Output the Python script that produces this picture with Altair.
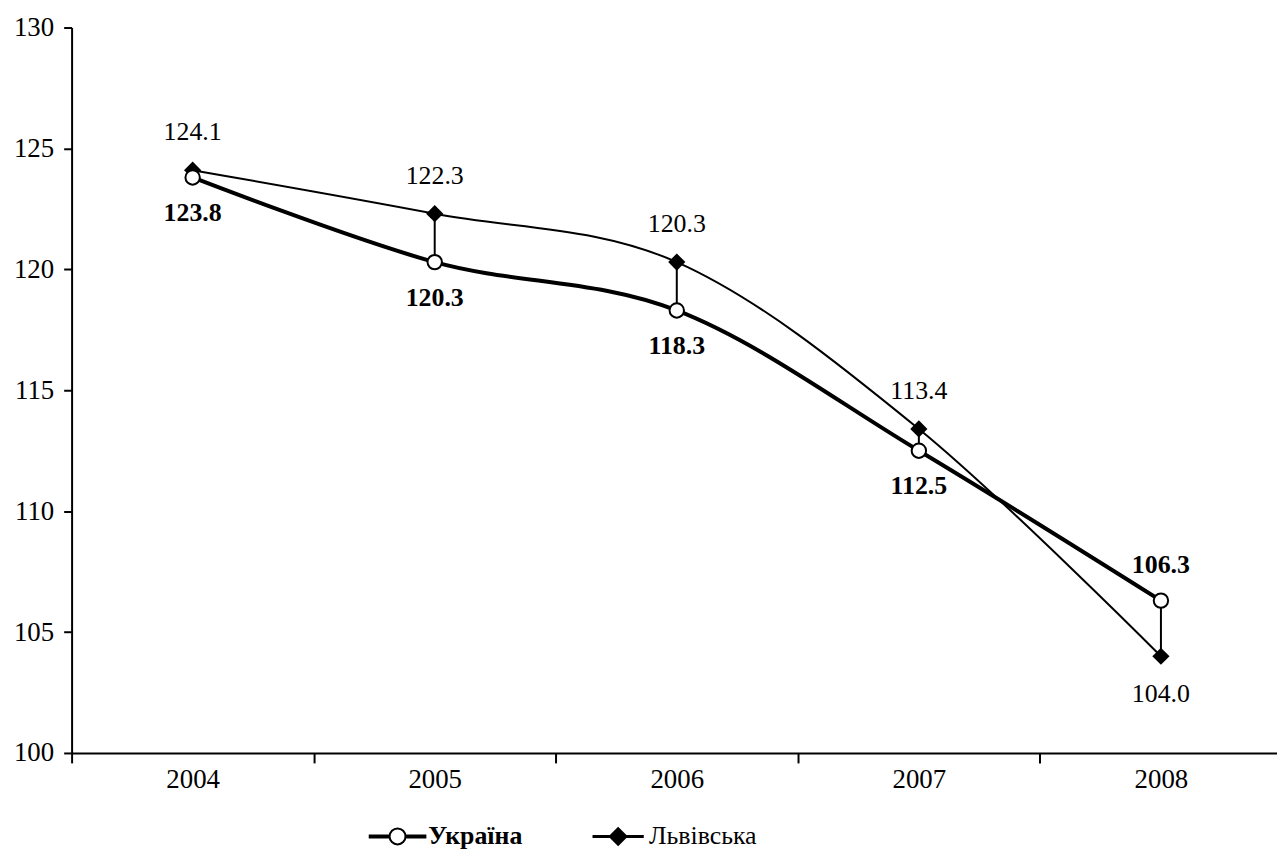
import altair as alt
import pandas as pd

years = ["2004", "2005", "2006", "2007", "2008"]
ukraine = [123.8, 120.3, 118.3, 112.5, 106.3]
lviv = [124.1, 122.3, 120.3, 113.4, 104.0]
series = ["Україна", "Львівська"]
y_ticks = [100, 105, 110, 115, 120, 125, 130]

df = pd.DataFrame({"year": years, "ukraine": ukraine, "lviv": lviv})
df_long = pd.DataFrame({
    "year": years * 2,
    "value": ukraine + lviv,
    "series": [series[0]] * len(years) + [series[1]] * len(years),
})

FONT = "Liberation Serif"
FS = 26
AFS = 27

x_enc = alt.X("year:N", title=None,
              scale=alt.Scale(paddingInner=0, paddingOuter=0, range=[0, 1218]),
              axis=alt.Axis(labelAngle=0, labelAlign="center", tickBand="extent",
                            tickSize=10, tickWidth=2,
                            domainWidth=2, domainColor="black", tickColor="black",
                            labelFont=FONT, labelFontSize=AFS, labelColor="black",
                            labelPadding=17, grid=False))
y_scale = alt.Scale(domain=[100, 130], nice=False, zero=False)


def yq(field, axis=False):
    if axis:
        return alt.Y(f"{field}:Q", title=None, scale=y_scale,
                     axis=alt.Axis(values=y_ticks, tickSize=8, tickWidth=2, domainWidth=2,
                                   domainColor="black", tickColor="black",
                                   labelFont=FONT, labelFontSize=AFS, labelColor="black",
                                   labelPadding=10, grid=False))
    return alt.Y(f"{field}:Q", scale=y_scale)


base = alt.Chart(df)

line_u = base.mark_line(interpolate="cardinal", color="black", strokeWidth=4).encode(
    x=x_enc, y=yq("ukraine", axis=True))
line_l = base.mark_line(interpolate="cardinal", color="black", strokeWidth=2).encode(
    x="year:N", y=yq("lviv"))
rules = base.mark_rule(color="black", strokeWidth=2).encode(
    x="year:N", y=yq("ukraine"), y2="lviv:Q")
pts_l = base.mark_point(shape="diamond", filled=True, color="black", size=300, opacity=1).encode(
    x="year:N", y=yq("lviv"))
pts_u = base.mark_point(shape="circle", filled=True, fill="white", stroke="black",
                        strokeWidth=2, size=210, opacity=1).encode(
    x="year:N", y=yq("ukraine"))

txt_u_below = base.transform_filter("datum.year != '2008'").mark_text(
    font=FONT, fontSize=FS, fontWeight="bold", color="black", dy=36, baseline="middle").encode(
    x="year:N", y=yq("ukraine"), text=alt.Text("ukraine:Q", format=".1f"))
txt_u_above = base.transform_filter("datum.year == '2008'").mark_text(
    font=FONT, fontSize=FS, fontWeight="bold", color="black", dy=-36, baseline="middle").encode(
    x="year:N", y=yq("ukraine"), text=alt.Text("ukraine:Q", format=".1f"))
txt_l_above = base.transform_filter("datum.year != '2008'").mark_text(
    font=FONT, fontSize=FS, color="black", dy=-38, baseline="middle").encode(
    x="year:N", y=yq("lviv"), text=alt.Text("lviv:Q", format=".1f"))
txt_l_below = base.transform_filter("datum.year == '2008'").mark_text(
    font=FONT, fontSize=FS, color="black", dy=38, baseline="middle").encode(
    x="year:N", y=yq("lviv"), text=alt.Text("lviv:Q", format=".1f"))

path_u = ("M-3.5,-0.12H-1V0.12H-3.5Z M1,-0.12H3.5V0.12H1Z "
          "M-1,0A1,1 0 1,1 1,0A1,1 0 1,1 -1,0Z")
path_l = "M-3.1,-0.06H-1V0.06H-3.1Z M1,-0.06H3.1V0.06H1Z M-1.05,0L0,-1.05L1.05,0L0,1.05Z"

legend = alt.Legend(title=None, orient="none", direction="horizontal",
                    legendX=296, legendY=801, padding=0,
                    symbolSize=256, symbolStrokeColor="black", symbolStrokeWidth=2,
                    symbolOffset=19, labelOffset=18, columnPadding=64,
                    labelFont=FONT, labelFontSize=FS, labelColor="black",
                    labelFontWeight={"expr": "datum.value === 'Україна' ? 'bold' : 'normal'"})

legend_layer = alt.Chart(df_long).transform_filter("datum.value < 0").mark_point(
    filled=True, strokeWidth=2, size=256, opacity=1).encode(
    x="year:N", y=yq("value"),
    shape=alt.Shape("series:N", scale=alt.Scale(domain=series, range=[path_u, path_l]),
                    legend=legend),
    fill=alt.Fill("series:N", scale=alt.Scale(domain=series, range=["white", "black"]),
                  legend=legend),
    stroke=alt.Stroke("series:N", scale=alt.Scale(domain=series, range=["black", "black"]),
                      legend=legend),
)

chart = alt.layer(
    line_l, line_u, rules, pts_l, pts_u,
    txt_u_below, txt_u_above, txt_l_above, txt_l_below, legend_layer
).properties(
    width=1213, height=730,
    autosize=alt.AutoSizeParams(type="none"),
    padding={"left": 64, "top": 17, "right": 0, "bottom": 96},
    background="white",
).configure_view(strokeWidth=0)

chart.save("out.html", embed_options={"renderer": "svg", "actions": False})
